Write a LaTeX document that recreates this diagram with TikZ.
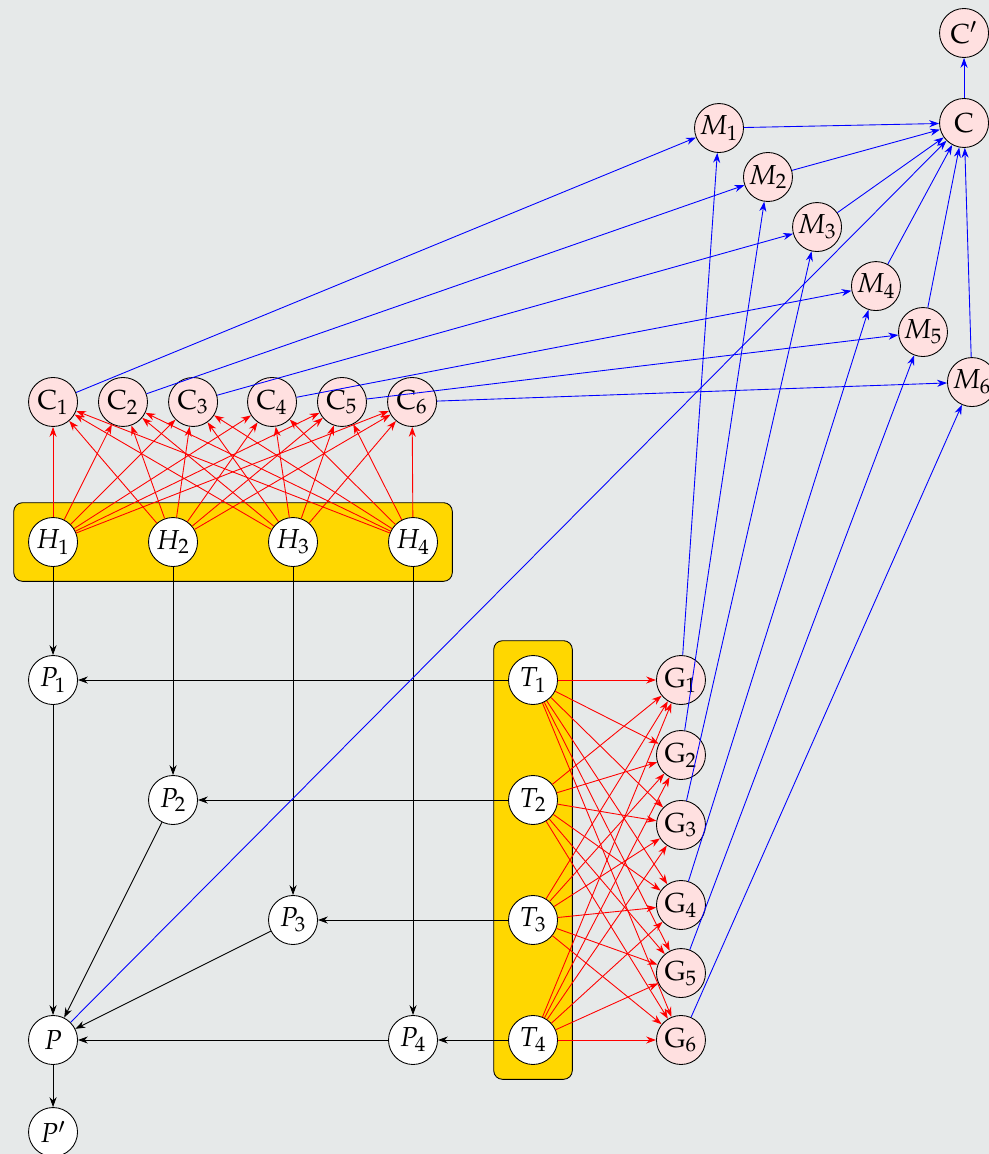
\documentclass[tikz,border=0pt]{standalone}
\usepackage{mathpazo}
\usepackage{tikz}
\usetikzlibrary{arrows.meta,fit,backgrounds}

\definecolor{paper}{RGB}{230,233,233}
\definecolor{boxyellow}{RGB}{255,215,0}
\definecolor{nodepink}{RGB}{255,224,224}

\begin{document}
\begin{tikzpicture}[x=1.92cm, y=1.92cm]

    % Style for nodes and arrows
    \tikzset{
        whitenode/.style={circle, draw=black, fill=white, minimum size=0.784cm, inner sep=0pt, font=\fontsize{12.5}{15}\selectfont},
        pinknode/.style={whitenode, fill=nodepink},
        groupbox/.style={draw=black, fill=boxyellow, rounded corners=4pt, inner sep=0.23cm},
        arr/.style={-{Stealth[length=4.5pt,width=3.2pt]}},
        redarr/.style={arr, red},
        bluearr/.style={arr, blue},
        blackarr/.style={arr, black}
    }

    \useasboundingbox (-0.442,-0.95) rectangle (7.8,8.667);

    % --- DRAW NODES ---
    % H_i in a row, P_i on the diagonal, T_i in a column
    \foreach \i in {1,...,4} {
        \node[whitenode] (H\i) at (\i-1, 4.15) {$H_{\i}$};
        \node[whitenode] (P\i) at (\i-1, 4-\i) {$P_{\i}$};
        \node[whitenode] (T\i) at (4, 4-\i) {$T_{\i}$};
    }
    \node[whitenode] (P) at (0,0) {$P$};
    \node[whitenode] (Pp) at (0,-0.767) {$P'$};

    % C_j along the top, G_j on the right, M_j on the slant
    \foreach \j/\cx in {1/0, 2/0.583, 3/1.167, 4/1.825, 5/2.408, 6/2.992}
        \node[pinknode] (C\j) at (\cx, 5.317) {$\mathrm{C}_{\j}$};
    \foreach \j/\gy in {1/3, 2/2.375, 3/1.792, 4/1.125, 5/0.558, 6/0}
        \node[pinknode] (G\j) at (5.233, \gy) {$\mathrm{G}_{\j}$};
    \foreach \j/\mx/\my in {1/5.55/7.6, 2/5.958/7.192, 3/6.367/6.775, 4/6.858/6.283, 5/7.25/5.9, 6/7.658/5.483}
        \node[pinknode] (M\j) at (\mx, \my) {$M_{\j}$};
    \node[pinknode] (C) at (7.592, 7.642) {$\mathrm{C}$};
    \node[pinknode] (Cp) at (7.592, 8.392) {$\mathrm{C}'$};

    % --- BACKGROUND AND BOXES ---
    \begin{scope}[on background layer]
        \fill[paper] (-0.442,-0.95) rectangle (7.8,8.667);
        \node[groupbox, fit=(H1)(H4)] (Hbox) {};
        \node[groupbox, fit=(T1)(T4)] (Tbox) {};
    \end{scope}

    % --- BLACK CONNECTIONS ---
    \foreach \i in {1,...,4} {
        \draw[blackarr] (H\i) -- (P\i);
        \draw[blackarr] (T\i) -- (P\i);
        \draw[blackarr] (P\i) -- (P);
    }
    \draw[blackarr] (P) -- (Pp);

    % --- RED CONNECTIONS (every H to every C, every T to every G) ---
    \foreach \i in {1,...,4}
        \foreach \j in {1,...,6} {
            \draw[redarr] (H\i) -- (C\j);
            \draw[redarr] (T\i) -- (G\j);
        }

    % --- BLUE CONNECTIONS ---
    \foreach \j in {1,...,6} {
        \draw[bluearr] (C\j) -- (M\j);
        \draw[bluearr] (G\j) -- (M\j);
        \draw[bluearr] (M\j) -- (C);
    }
    \draw[bluearr] (P) -- (C);
    \draw[bluearr] (C) -- (Cp);

\end{tikzpicture}
\end{document}
